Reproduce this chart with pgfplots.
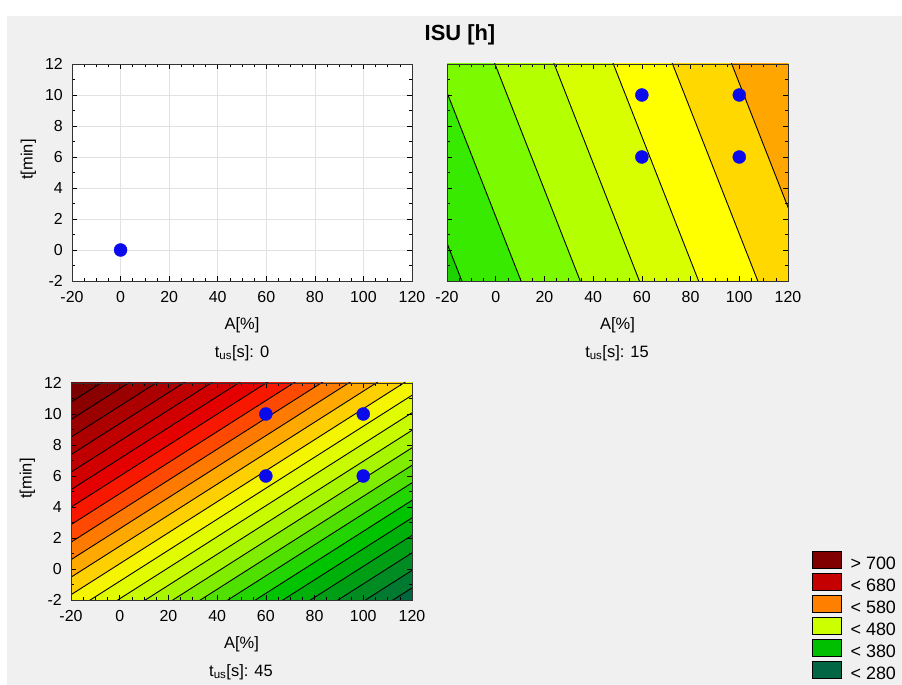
\documentclass[border=0pt]{standalone}
\usepackage{pgfplots}
\pgfplotsset{compat=1.18}
\usepackage{fontspec}
\setmainfont{Liberation Sans}

\definecolor{bg}{HTML}{F0F0F0}
\definecolor{dot}{RGB}{10,10,235}
\definecolor{gridc}{HTML}{E2E2E2}
% t_us = 15 bands, left to right
\definecolor{r0}{HTML}{1ED200}
\definecolor{r1}{HTML}{38EA00}
\definecolor{r2}{HTML}{7CFA00}
\definecolor{r3}{HTML}{B4FF00}
\definecolor{r4}{HTML}{D8FF00}
\definecolor{r5}{HTML}{FFFF00}
\definecolor{r6}{HTML}{FFD800}
\definecolor{r7}{HTML}{FFA600}
% t_us = 45 bands, low to high
\definecolor{b00}{HTML}{006840}
\definecolor{b01}{HTML}{007A30}
\definecolor{b02}{HTML}{008C22}
\definecolor{b03}{HTML}{009E15}
\definecolor{b04}{HTML}{00B00A}
\definecolor{b05}{HTML}{00C300}
\definecolor{b06}{HTML}{22D400}
\definecolor{b07}{HTML}{50E000}
\definecolor{b08}{HTML}{80EC00}
\definecolor{b09}{HTML}{A8F500}
\definecolor{b10}{HTML}{C8FA00}
\definecolor{b11}{HTML}{E2FC00}
\definecolor{b12}{HTML}{F5F500}
\definecolor{b13}{HTML}{FFD000}
\definecolor{b14}{HTML}{FFA800}
\definecolor{b15}{HTML}{FF7A00}
\definecolor{b16}{HTML}{FF4800}
\definecolor{b17}{HTML}{F81800}
\definecolor{b18}{HTML}{E40000}
\definecolor{b19}{HTML}{D00000}
\definecolor{b20}{HTML}{BE0000}
\definecolor{b21}{HTML}{AC0000}
\definecolor{b22}{HTML}{9A0000}
\definecolor{b23}{HTML}{8A0000}
\definecolor{b24}{HTML}{7A0000}
% legend
\definecolor{L1}{HTML}{800000}
\definecolor{L2}{HTML}{C40000}
\definecolor{L3}{HTML}{FF8000}
\definecolor{L4}{HTML}{CCFF00}
\definecolor{L5}{HTML}{00BE00}
\definecolor{L6}{HTML}{006644}

\pgfplotsset{
  panel/.style={
    scale only axis, width=341bp, height=217bp,
    xmin=-20, xmax=120, ymin=-2, ymax=12,
    xtick={-20,0,...,120}, ytick={-2,0,...,12},
    xticklabels={-20,0,20,40,60,80,100,120},
    yticklabels={-2,0,2,4,6,8,10,12},
    minor x tick num=3, minor y tick num=1,
    tick align=inside, major tick length=5bp, minor tick length=3bp,
    tick style={black, line width=0.6bp},
    axis line style={black!80, line width=0.8bp},
    tick label style={font=\fontsize{16}{18}\selectfont},
    xticklabel style={inner sep=0pt, yshift=-10bp},
    yticklabel style={inner sep=0pt, xshift=-9bp},
    label style={font=\fontsize{16.5}{18}\selectfont},
    xlabel={A[\%]},
    xlabel style={at={(axis description cs:0.5,-0.203)}, anchor=center},
    ylabel style={at={(axis description cs:-0.128,0.56)}, anchor=center},
    axis on top,
  },
  pts/.style={only marks, mark=*, mark size=6.5bp, mark options={draw=dot, fill=dot}, forget plot},
  band/.style={draw=none, forget plot},
  iso/.style={black, line width=0.9bp, unbounded coords=jump, forget plot},
}

\begin{document}
\begin{tikzpicture}
\fill[white] (0bp,0bp) rectangle (902bp,685bp);
\fill[bg] (7bp,0bp) rectangle (902bp,669bp);

% ---- t_us = 0
\begin{axis}[panel, at={(72bp,404bp)}, anchor=south west, width=340bp,
  ylabel={t[min]}, axis on top=false, grid=major,
  major grid style={gridc, line width=0.6bp},
  axis background/.style={fill=white}]
\addplot[pts] coordinates {(0,0)};
\end{axis}

% ---- t_us = 15
\begin{axis}[panel, at={(447bp,404bp)}, anchor=south west,
  yticklabels={}, axis background/.style={fill=r0}]
\addplot[band, fill=r1] coordinates {(-51.4,13) (-11.4,-3) (200,-3) (200,13)} -- cycle;
\addplot[band, fill=r2] coordinates {(-27.1,13) (12.9,-3) (200,-3) (200,13)} -- cycle;
\addplot[band, fill=r3] coordinates {(-2.8,13) (37.2,-3) (200,-3) (200,13)} -- cycle;
\addplot[band, fill=r4] coordinates {(21.5,13) (61.5,-3) (200,-3) (200,13)} -- cycle;
\addplot[band, fill=r5] coordinates {(45.8,13) (85.8,-3) (200,-3) (200,13)} -- cycle;
\addplot[band, fill=r6] coordinates {(70.1,13) (110.1,-3) (200,-3) (200,13)} -- cycle;
\addplot[band, fill=r7] coordinates {(94.4,13) (134.4,-3) (200,-3) (200,13)} -- cycle;
\addplot[iso] coordinates {
  (-51.4,13) (-11.4,-3) (nan,nan)
  (-27.1,13) (12.9,-3) (nan,nan)
  (-2.8,13) (37.2,-3) (nan,nan)
  (21.5,13) (61.5,-3) (nan,nan)
  (45.8,13) (85.8,-3) (nan,nan)
  (70.1,13) (110.1,-3) (nan,nan)
  (94.4,13) (134.4,-3)};
\addplot[pts] coordinates {(60,6) (60,10) (100,6) (100,10)};
\end{axis}

% ---- t_us = 45
\begin{axis}[panel, at={(71bp,85bp)}, anchor=south west,
  ylabel={t[min]}, axis background/.style={fill=b00},
  legend style={at={(axis description cs:2.173,0.226)}, anchor=north west,
    draw=none, fill=none, inner sep=0pt, row sep=1.8bp,
    font=\fontsize{18}{20}\selectfont, nodes={inner sep=0pt},
    /tikz/every odd column/.append style={column sep=9bp}},
  legend cell align=left,
  legend image code/.code={\fill[#1] (0bp,-4bp) rectangle (29bp,13bp);}]
\addplot[band, fill=b01] coordinates {(-20,-15.22) (120,-1.22) (120,30) (-20,30)} -- cycle;
\addplot[band, fill=b02] coordinates {(-20,-14.09) (120,-0.09) (120,30) (-20,30)} -- cycle;
\addplot[band, fill=b03] coordinates {(-20,-12.96) (120,1.04) (120,30) (-20,30)} -- cycle;
\addplot[band, fill=b04] coordinates {(-20,-11.83) (120,2.17) (120,30) (-20,30)} -- cycle;
\addplot[band, fill=b05] coordinates {(-20,-10.70) (120,3.30) (120,30) (-20,30)} -- cycle;
\addplot[band, fill=b06] coordinates {(-20,-9.57) (120,4.43) (120,30) (-20,30)} -- cycle;
\addplot[band, fill=b07] coordinates {(-20,-8.44) (120,5.56) (120,30) (-20,30)} -- cycle;
\addplot[band, fill=b08] coordinates {(-20,-7.31) (120,6.69) (120,30) (-20,30)} -- cycle;
\addplot[band, fill=b09] coordinates {(-20,-6.18) (120,7.82) (120,30) (-20,30)} -- cycle;
\addplot[band, fill=b10] coordinates {(-20,-5.05) (120,8.95) (120,30) (-20,30)} -- cycle;
\addplot[band, fill=b11] coordinates {(-20,-3.92) (120,10.08) (120,30) (-20,30)} -- cycle;
\addplot[band, fill=b12] coordinates {(-20,-2.79) (120,11.21) (120,30) (-20,30)} -- cycle;
\addplot[band, fill=b13] coordinates {(-20,-1.66) (120,12.34) (120,30) (-20,30)} -- cycle;
\addplot[band, fill=b14] coordinates {(-20,-0.53) (120,13.47) (120,30) (-20,30)} -- cycle;
\addplot[band, fill=b15] coordinates {(-20,0.60) (120,14.60) (120,30) (-20,30)} -- cycle;
\addplot[band, fill=b16] coordinates {(-20,1.73) (120,15.73) (120,30) (-20,30)} -- cycle;
\addplot[band, fill=b17] coordinates {(-20,2.86) (120,16.86) (120,30) (-20,30)} -- cycle;
\addplot[band, fill=b18] coordinates {(-20,3.99) (120,17.99) (120,30) (-20,30)} -- cycle;
\addplot[band, fill=b19] coordinates {(-20,5.12) (120,19.12) (120,30) (-20,30)} -- cycle;
\addplot[band, fill=b20] coordinates {(-20,6.25) (120,20.25) (120,30) (-20,30)} -- cycle;
\addplot[band, fill=b21] coordinates {(-20,7.38) (120,21.38) (120,30) (-20,30)} -- cycle;
\addplot[band, fill=b22] coordinates {(-20,8.51) (120,22.51) (120,30) (-20,30)} -- cycle;
\addplot[band, fill=b23] coordinates {(-20,9.64) (120,23.64) (120,30) (-20,30)} -- cycle;
\addplot[band, fill=b24] coordinates {(-20,10.77) (120,24.77) (120,30) (-20,30)} -- cycle;
\addplot[iso] coordinates {
  (-20,-15.22) (120,-1.22) (nan,nan)
  (-20,-14.09) (120,-0.09) (nan,nan)
  (-20,-12.96) (120,1.04) (nan,nan)
  (-20,-11.83) (120,2.17) (nan,nan)
  (-20,-10.70) (120,3.30) (nan,nan)
  (-20,-9.57) (120,4.43) (nan,nan)
  (-20,-8.44) (120,5.56) (nan,nan)
  (-20,-7.31) (120,6.69) (nan,nan)
  (-20,-6.18) (120,7.82) (nan,nan)
  (-20,-5.05) (120,8.95) (nan,nan)
  (-20,-3.92) (120,10.08) (nan,nan)
  (-20,-2.79) (120,11.21) (nan,nan)
  (-20,-1.66) (120,12.34) (nan,nan)
  (-20,-0.53) (120,13.47) (nan,nan)
  (-20,0.60) (120,14.60) (nan,nan)
  (-20,1.73) (120,15.73) (nan,nan)
  (-20,2.86) (120,16.86) (nan,nan)
  (-20,3.99) (120,17.99) (nan,nan)
  (-20,5.12) (120,19.12) (nan,nan)
  (-20,6.25) (120,20.25) (nan,nan)
  (-20,7.38) (120,21.38) (nan,nan)
  (-20,8.51) (120,22.51) (nan,nan)
  (-20,9.64) (120,23.64) (nan,nan)
  (-20,10.77) (120,24.77)};
\addplot[pts] coordinates {(60,6) (60,10) (100,6) (100,10)};
\addlegendimage{fill=L1}\addlegendentry{> 700}
\addlegendimage{fill=L2}\addlegendentry{< 680}
\addlegendimage{fill=L3}\addlegendentry{< 580}
\addlegendimage{fill=L4}\addlegendentry{< 480}
\addlegendimage{fill=L5}\addlegendentry{< 380}
\addlegendimage{fill=L6}\addlegendentry{< 280}
\end{axis}

\node[font=\bfseries\fontsize{22}{24}\selectfont] at (460bp,650bp) {ISU [h]};
\node[font=\fontsize{16.5}{18}\selectfont] at (242bp,332bp) {t\textsubscript{us}[s]: 0};
\node[font=\fontsize{16.5}{18}\selectfont] at (617bp,332bp) {t\textsubscript{us}[s]: 15};
\node[font=\fontsize{16.5}{18}\selectfont] at (241bp,13bp) {t\textsubscript{us}[s]: 45};
\end{tikzpicture}
\end{document}
